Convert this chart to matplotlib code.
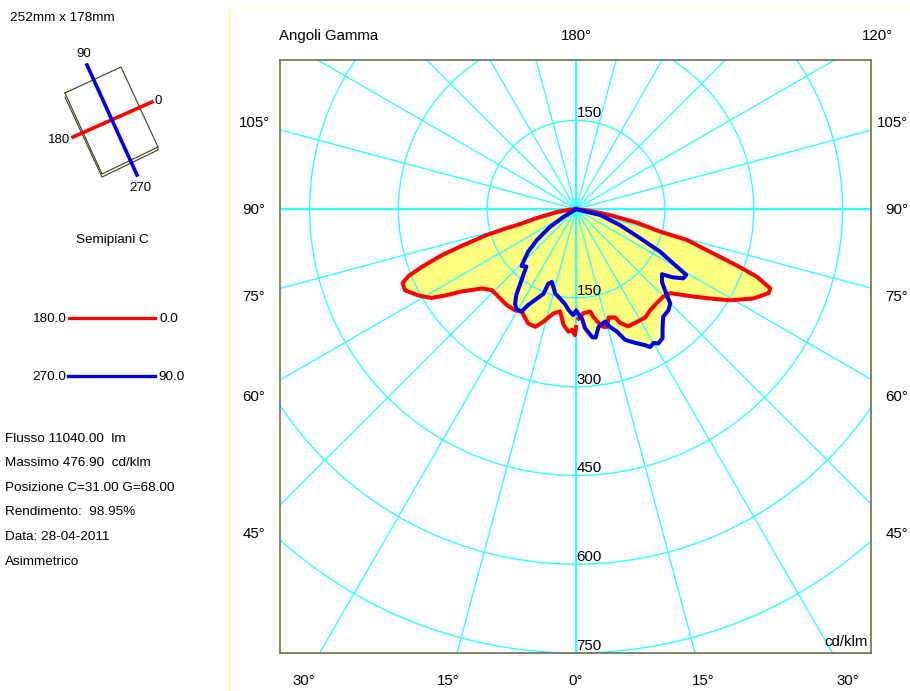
"""Photometric polar diagram (cd/klm) of an asymmetric luminaire, half-planes C0-180 and C90-270."""

import matplotlib

matplotlib.use("Agg")
import matplotlib.pyplot as plt
import numpy as np

plt.rcParams["font.family"] = ["Liberation Sans", "DejaVu Sans"]

# intensity components, cd/klm (lateral, vertical)
c180_x = [0, -12, -33, -66, -100, -120, -154, -193, -227, -261, -283, -293, -289, -266, -244,
          -221, -193, -159, -142, -131, -128, -117, -103, -92, -81, -69, -55, -38, -27, -21,
          -13, -7, -2, 0]
c180_y = [0, -1, -5, -15, -27, -33, -45, -62, -78, -98, -113, -125, -137, -146, -150,
          -146, -139, -134, -137, -148, -151, -162, -171, -173, -193, -199, -190, -176, -173, -196,
          -207, -204, -213, -199]
c0_x = [4, 12, 24, 29, 38, 46, 52, 55, 66, 74, 88, 100, 117, 125, 136, 147, 159, 193, 226,
        260, 299, 325, 328, 305, 271, 226, 187, 142, 103, 57, 24, 0]
c0_y = [-185, -176, -173, -182, -192, -199, -199, -183, -183, -192, -198, -192, -183, -171,
        -159, -148, -142, -147, -151, -154, -151, -142, -134, -114, -95, -72, -52, -38,
        -23, -10, -3, 0]
c270_x = [0, -21, -44, -66, -81, -89, -92, -84, -89, -95, -101, -103, -101, -92, -81, -66,
          -55, -47, -41, -35, -27, -19, -13, -5, 0]
c270_y = [0, -13, -30, -52, -72, -89, -96, -97, -111, -128, -145, -160, -169, -173, -162,
          -151, -143, -126, -123, -143, -151, -160, -170, -179, -172]
c90_x = [0, 10, 15, 27, 33, 38, 49, 57, 69, 83, 100, 117, 125, 131, 139, 146, 146, 147, 156,
         159, 153, 145, 145, 162, 181, 186, 170, 142, 108, 74, 41, 12, 0]
c90_y = [-172, -185, -201, -216, -217, -199, -190, -199, -207, -221, -226, -230, -233, -226,
         -227, -218, -201, -182, -171, -159, -145, -123, -110, -115, -117, -111, -97, -72,
         -49, -27, -10, -3, 0]

rings = [150, 300, 450, 600, 750]
spoke_angles = np.arange(0, 360, 15)
bottom_labels = ["30°", "15°", "0°", "15°", "30°"]
side_labels = ["105°", "90°", "75°", "60°", "45°"]
info_lines = ["Flusso 11040.00  lm", "Massimo 476.90  cd/klm", "Posizione C=31.00 G=68.00",
              "Rendimento:  98.95%", "Data: 28-04-2011", "Asimmetrico"]

RED = "#ff0000"
BLUE = "#0000e6"
CYAN = "#33ffff"
FILL = "#ffff80"
FRAME = "#6e6e50"
FS_CHART = 10.8
FS_SIDE = 9.7

fig = plt.figure(figsize=(9.10, 6.91), dpi=100)
ax = fig.add_axes([280 / 910, 38 / 691, 591 / 910, 593 / 691])
ax.set_xlim(-500, 498)
ax.set_ylim(-750, 252)
ax.set_xticks([])
ax.set_yticks([])
for s in ax.spines.values():
    s.set_color(FRAME)
    s.set_linewidth(1.2)

for xs, ys in [(c180_x, c180_y), (c0_x, c0_y), (c270_x, c270_y), (c90_x, c90_y)]:
    ax.fill(xs, ys, color=FILL, lw=0, zorder=1)

# grid sits above the fill, below the curves
for a in np.radians(spoke_angles):
    ax.plot([0, 1100 * np.sin(a)], [0, -1100 * np.cos(a)], color=CYAN, lw=1.0, zorder=2)
t = np.linspace(0, 2 * np.pi, 400)
for r in rings:
    ax.plot(r * np.cos(t), r * np.sin(t), color=CYAN, lw=1.0, zorder=2)
ax.plot([-500, 498], [0, 0], color=CYAN, lw=1.5, zorder=2)
ax.plot([0, 0], [252, -750], color=CYAN, lw=1.5, zorder=2)

ax.plot(c180_x, c180_y, color=RED, lw=2.9, zorder=3, solid_joinstyle="round")
ax.plot(c0_x, c0_y, color=RED, lw=2.9, zorder=3, solid_joinstyle="round")
ax.plot(c270_x, c270_y, color=BLUE, lw=2.9, zorder=4, solid_joinstyle="round")
ax.plot(c90_x, c90_y, color=BLUE, lw=2.9, zorder=4, solid_joinstyle="round")

ax.text(22, rings[0] + 12, str(rings[0]), ha="center", va="center", fontsize=FS_CHART, zorder=5)
for r in rings:
    ax.text(22, -r + 12, str(r), ha="center", va="center", fontsize=FS_CHART, zorder=5)
ax.text(493, -731, "cd/klm", ha="right", va="center", fontsize=FS_CHART, zorder=5)

# overlay in figure pixels for everything outside the diagram
ov = fig.add_axes([0, 0, 1, 1], zorder=-1)
ov.set_xlim(0, 910)
ov.set_ylim(691, 0)
ov.axis("off")
ov.plot([229, 229], [9, 691], color="#ffff66", lw=1.0)
ov.plot([229, 910], [9, 9], color="#ffffd0", lw=0.8)


def label(x, y, s, ha="center", fs=FS_SIDE):
    ov.text(x, y + 1, s, ha=ha, va="center", fontsize=fs)


label(329, 35, "Angoli Gamma", fs=FS_CHART)
label(576, 35, "180°", fs=FS_CHART)
label(877, 35, "120°", fs=FS_CHART)
for x, s in zip([304, 448, 576, 703, 848], bottom_labels):
    label(x, 680, s, fs=FS_CHART)
for y, s in zip([122, 209, 296, 396, 533], side_labels):
    label(254, y, s, fs=FS_CHART)
    # the right column runs up to the image edge, keep the widest label inside
    label(908, y, s, ha="right", fs=FS_CHART)

# luminaire sketch
ov.plot([65, 121, 158, 102, 65], [93, 67, 147, 174, 93], color="#3d3d20", lw=0.8)
ov.plot([65, 102, 158, 158], [97, 177, 150, 147], color="#3d3d20", lw=0.8)
ov.plot([73, 152], [137, 102], color=RED, lw=2.6)
ov.plot([87, 137], [65, 175], color=BLUE, lw=2.6)
label(10, 17, "252mm x 178mm", ha="left")
label(84, 53, "90", fs=9.5)
label(158, 100, "0", fs=9.5)
label(59, 139, "180", fs=9.5)
label(140, 187, "270", fs=9.5)

# half-plane legend
label(112, 239, "Semipiani C")
ov.plot([69, 155], [318, 318], color=RED, lw=2.4)
ov.plot([68, 155], [376, 376], color=BLUE, lw=2.4)
label(66, 318, "180.0", ha="right")
label(159, 318, "0.0", ha="left")
label(66, 376, "270.0", ha="right")
label(158, 376, "90.0", ha="left")

for y, s in zip([438, 462, 487, 511, 536, 561], info_lines):
    label(5, y, s, ha="left")

fig.savefig("out.png", dpi=100)
plt.close(fig)
